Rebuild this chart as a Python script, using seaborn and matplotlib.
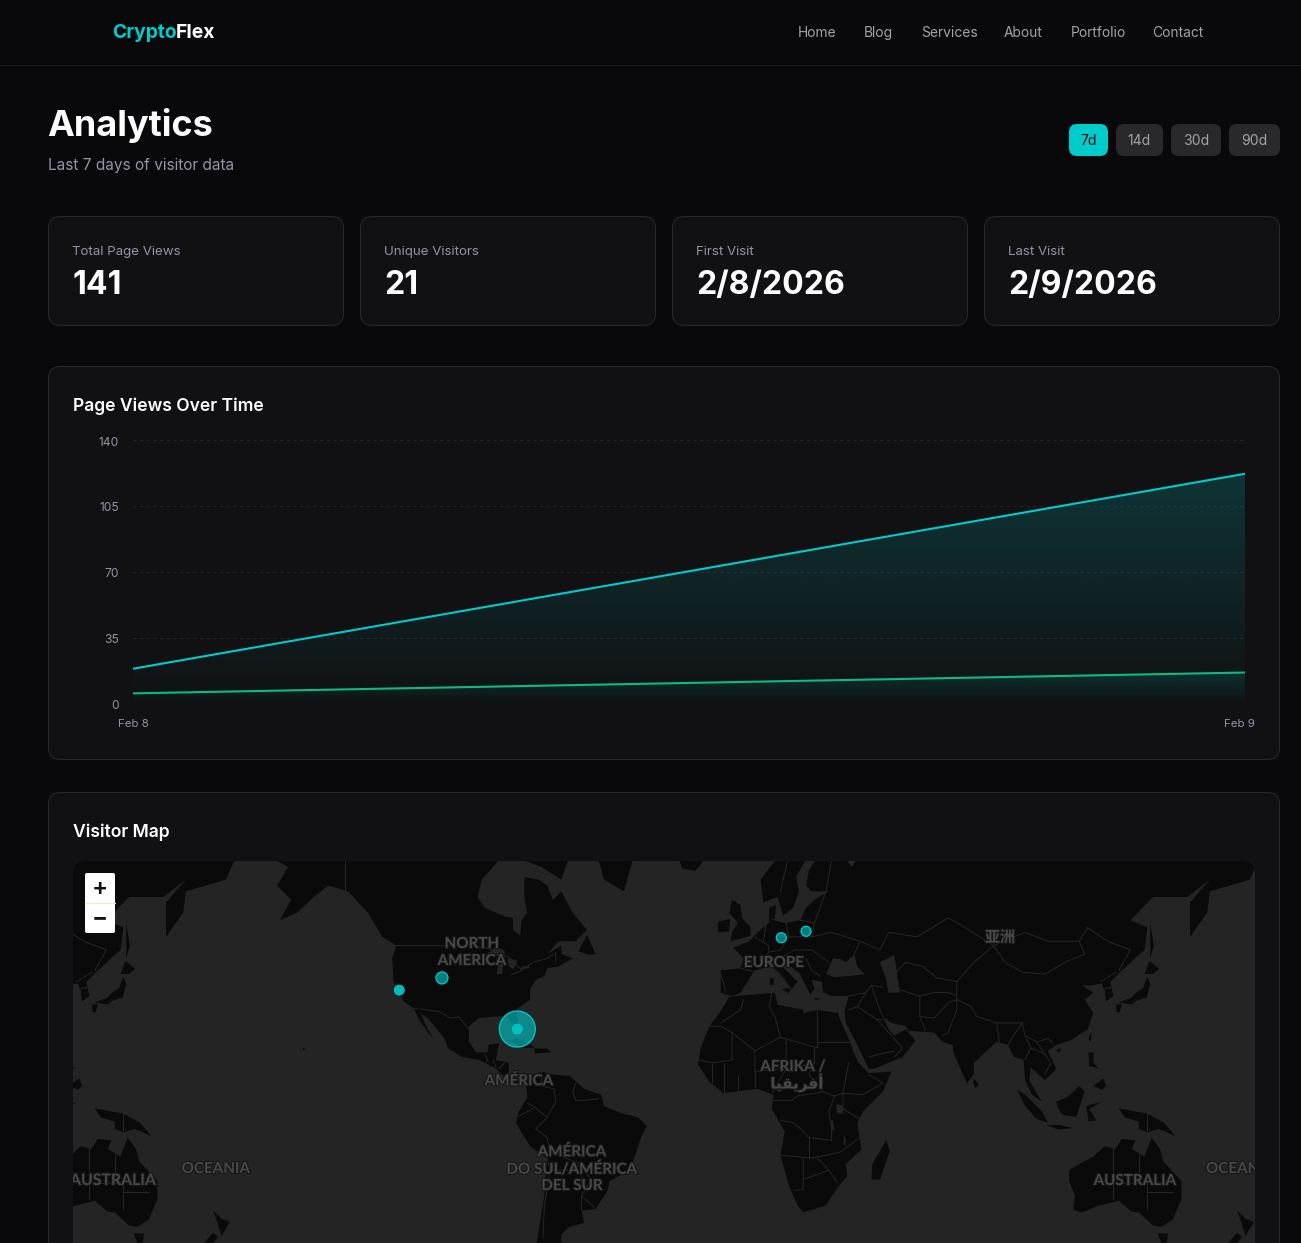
import numpy as np
import pandas as pd
import seaborn as sns
import matplotlib
matplotlib.use("Agg")
import matplotlib.pyplot as plt
import matplotlib.patheffects as pe
from matplotlib.patches import FancyBboxPatch, Rectangle
from matplotlib.transforms import ScaledTranslation

# ---------- chart data ----------
DAYS = ["Feb 8", "Feb 9"]
PAGE_VIEWS = [19, 122]
UNIQUE_VISITORS = [6, 17]
Y_TICKS = [0, 35, 70, 105, 140]

STAT_LABELS = ["Total Page Views", "Unique Visitors", "First Visit", "Last Visit"]
STAT_VALUES = ["141", "21", "2/8/2026", "2/9/2026"]
NAV_ITEMS = ["Home", "Blog", "Services", "About", "Portfolio", "Contact"]
RANGE_ITEMS = ["7d", "14d", "30d", "90d"]

# ---------- visitor locations ----------
VISIT_LON = [-80.5, -107.0, 12.3, 21.0]
VISIT_LAT = [26.1, 41.0, 50.8, 52.2]
VISIT_COUNT = [14, 2, 1, 1]
SOLID_LON = [-122.0, -80.5]
SOLID_LAT = [37.7, 26.1]
SOLID_COUNT = [1, 1]

# ---------- rough world geometry (lon, lat) ----------
LAND = [
 [(-168,65.6),(-164,66.5),(-166,68.3),(-157,71.2),(-141,69.6),(-128,70),(-115,68),(-108,68),(-96,68),(-94,71.5),(-88,68.5),(-82,69.5),(-81,67),(-87,65),(-93,62),(-94.5,59),(-92,57),(-85,55.3),(-82,55),(-82,52.5),(-79.5,51.3),(-79,54.5),(-77,56),(-78,58.7),(-78,62.4),(-73,62),(-70,61),(-68,58.5),(-65,60),(-61,56),(-56,52.5),(-60,50),(-66,50),(-70,47),(-65,49),(-65,47),(-61,46),(-66,44),(-70,43.5),(-71,41.5),(-74,40.5),(-76,38),(-76,35),(-81,32),(-80,27),(-80.5,25.2),(-82,27),(-84,30),(-89,30),(-94,29.5),(-97.5,27),(-97.5,22),(-95,18.5),(-91,18.5),(-90.5,21),(-87,21.5),(-88,16),(-83.5,15),(-83.5,11),(-80,9),(-77.5,8.5),(-80,7.5),(-85,10),(-88,13),(-94,16),(-100,17),(-105,20),(-106,23),(-112,29.5),(-114.5,31),(-112,26),(-110,23),(-112,25),(-115,29),(-117,32.5),(-120.5,34.5),(-124,40),(-124.5,46),(-123,49),(-128,51),(-133,56),(-140,60),(-147,61),(-152,59),(-158,56),(-164,54.5),(-160,58.5),(-165,61),(-161,64)],
 [(-77.5,8.5),(-75,11),(-72,12),(-68,11),(-62,10.5),(-57,6),(-51,4),(-50,0),(-44,-2.5),(-38,-4),(-35,-7),(-37,-11),(-39,-17),(-41,-22),(-48,-25.5),(-49,-29),(-53,-34),(-58,-34.5),(-57,-38),(-62,-39),(-65,-41),(-65,-45),(-69,-50),(-75,-50),(-73,-40),(-71,-30),(-70,-18),(-76,-14),(-81,-6),(-80,-2),(-77,3)],
 [(-6,35.8),(10,37),(11,33.5),(20,32),(20,31),(25,32),(32.5,31),(32.5,30),(34,27),(36,23),(38,18),(39.5,15),(43,11.5),(51,12),(48,5),(41,-2),(39,-6),(40.5,-15),(35,-20),(35.5,-24),(32.5,-27),(28,-33),(20,-35),(18,-33),(15,-27),(12,-17),(13.5,-9),(9,-1),(9.5,4),(4,6),(-4,5),(-8,4.5),(-13,8.5),(-17,14.5),(-16,20),(-13,27),(-9.5,31)],
 [(-9,37),(-9,43),(-2,43.5),(-1,46),(-4.5,48.5),(1,50),(4,52),(8,54),(8,57),(10.5,57.5),(10,54.5),(14,54),(19,54.5),(21,57),(24,58.5),(29,60),(23,60),(21,61),(22,63.5),(25,65.5),(22,65.8),(17.5,62.5),(18.5,60),(16.5,57),(13,55.5),(11,59),(6,58),(5,62),(12,66),(18,70),(26,71),(40,67),(33,66.5),(37,64),(44,68),(60,69),(68,69),(67,73),(80,73),(100,77),(113,74),(130,71),(140,73),(160,70),(180,69),(180,65),(177,62),(163,60),(162,56),(156,51),(156,58),(163,62),(155,59),(143,59),(135,54.5),(141,53),(140,48),(132,43),(128,40),(129,36),(126.5,34.5),(126,37.5),(125,39.5),(121,39),(118,39),(122,37),(119,35),(122,31),(120,26),(114,22.5),(109,21),(106,19),(109,13),(105,9),(100,13.5),(99.5,9),(103,3),(104,1.5),(100.5,4),(98,9),(97.5,16),(94,17),(92,21),(88,22),(80,15),(80,11),(77.5,8),(73,18),(72.5,21),(69,22),(66,25),(57,25.5),(56,27),(51,28),(48,30),(50,26),(52,24),(56,26),(59.5,22.5),(55,17),(45,13),(43,13),(39,21),(35,28),(34.5,31.5),(36,36),(30,36),(27,37),(26.5,40),(23,40.5),(24,38),(22.5,36.5),(19.5,41),(19,42),(13,45.5),(12.5,44),(18,40),(16,38),(12,42),(9,44),(3,43),(0,39.5),(-2,37),(-5,36)],
 [(-73,78),(-60,82),(-30,83),(-18,76),(-22,70),(-40,65),(-43,60),(-50,62),(-54,68),(-58,75)],
 [(-80,73),(-68,68),(-62,66),(-65,62),(-72,64),(-78,65),(-73,68)],
 [(-59,47.7),(-56,51.5),(-53,47),(-55,46.8)],
 [(-85,22),(-80,23),(-74.2,20.2),(-78,19.9),(-82,22)],
 [(-74.4,19.8),(-70,19.8),(-68.5,18.5),(-74.4,18.2)],
 [(-5.5,50),(1.5,51.2),(1.5,53),(-1.5,55),(-2,57.5),(-5,58.5),(-6,56),(-3,54),(-5,52)],
 [(-10,52),(-6,52.2),(-5.7,54.8),(-10,54.2)],
 [(-24,65.5),(-14,65.5),(-18,63.4),(-22.5,63.8)],
 [(8.3,39),(9.7,39.2),(9.6,41.1),(8.3,40.9)],
 [(12.5,38),(15.5,38.2),(15,36.7)],
 [(23.5,35.5),(26.3,35.2),(24.5,34.9)],
 [(130,33.5),(132,33.8),(131.3,31.2),(130.2,31.4)],
 [(131,34.2),(135.5,35.6),(137,37),(139.5,38.3),(141,41.3),(142,39.5),(140.8,35.6),(137,34.6),(135.5,33.6),(132,34)],
 [(140,42),(141.7,45.4),(145.2,43.4),(143,42)],
 [(142,54),(143.3,49),(142,46),(142,50)],
 [(120.2,23),(121.5,25.2),(121,22)],
 [(108.8,19.3),(110.7,20),(110,18.3)],
 [(80,9.7),(81.8,7.5),(80.6,6),(79.8,8)],
 [(44.3,-20),(49.2,-12),(50.4,-15.7),(47,-25),(44,-25)],
 [(95.3,5.6),(98,4),(104,-2),(106,-5.8),(102,-4.5),(98,0)],
 [(105.5,-6.8),(110,-6.6),(114.5,-7.7),(110,-8.3)],
 [(109,1.5),(113,3.2),(117,7),(119,5),(117.6,1),(116,-3.9),(111,-3),(109.5,-0.5)],
 [(119.5,0),(124.8,1.4),(120.6,-1),(123,-5),(120.4,-5.5)],
 [(120.3,18.5),(122.2,18.4),(122,15),(124,13),(120.5,14)],
 [(122,7),(125.5,9.7),(126.5,7),(125,5.7)],
 [(131,-0.8),(137,-2),(141,-2.7),(147,-6),(150.8,-10.5),(145,-8),(141,-9.2),(138,-8),(138,-5.5),(133,-4)],
 [(113.5,-22),(116,-20.5),(122,-17.5),(126,-14),(129.7,-15),(132,-11.5),(136.8,-12),(135.5,-15),(140,-17.5),(142.5,-11),(145.5,-15),(146.5,-19),(153,-25.5),(153,-31),(150,-37),(146,-39),(143,-38.7),(138,-35),(135.5,-34.8),(131,-31.6),(124,-33),(118,-35),(115,-34.3),(115.5,-30),(113.5,-25.5)],
 [(144.7,-40.8),(148.3,-40.9),(147.8,-43.2),(146,-43.6)],
 [(172.7,-34.5),(175.5,-36.8),(178.5,-37.7),(175.5,-41.5),(174.5,-39)],
 [(172.5,-40.7),(174.3,-41.7),(171,-45),(166.5,-46),(168.5,-44)],
 [(-156,20.2),(-155,19.7),(-155.7,19)],
]
WATER = [
 [(28,42),(30.5,46),(33,45.8),(35,45),(38,47),(39,44),(41.5,42),(36,41.5),(31,41.2)],
 [(47,45),(52,46.8),(53,42),(54,37),(50,37),(49,41)],
 [(-92,46.7),(-88,48.8),(-85,47.8),(-85,46.5)],
 [(-87.8,42),(-86,42),(-85,45.8),(-87,45.7)],
 [(-84,46),(-80.5,45.5),(-81.8,43.2),(-83.5,44)],
 [(-83,41.6),(-79,42.7),(-78.9,43),(-82,42.3)],
 [(-79.5,43.3),(-76.3,43.5),(-76.4,44.2),(-79,43.9)],
 [(31.5,0.5),(34,0.2),(34,-2.6),(32,-2.6)],
 [(29.5,-5),(30.5,-5),(31,-8.5),(30,-8.2)],
 [(34.2,-10),(35,-12),(34.8,-14),(34.2,-13)],
]
BORDERS = [
 [(-141,69.6),(-141,60)], [(-123,49),(-95,49),(-89,48),(-83,46),(-79,43),(-75,45),(-70,46),(-67,47.3),(-67,45)],
 [(-117,32.5),(-108,31.5),(-104,29.5),(-101,29.8),(-97.5,26)], [(-92,18),(-91,16),(-92,14.5)], [(-89,16),(-88,13.5)], [(-85,15),(-87,13)],
 [(-83.5,11),(-86,11)], [(-83,9),(-82.8,8)],
 [(-72,12),(-72,7),(-67.5,6),(-67,1.5),(-70,-4),(-74,-8),(-70,-11),(-69,-16),(-58,-20),(-54.5,-25.5),(-58,-30),(-53.5,-33.5)],
 [(-60,8),(-61,5),(-60,2),(-57,2),(-52,2.5)], [(-77,1),(-75,0),(-70,-4)], [(-80,-3.5),(-75,-1)], [(-70,-18),(-69,-22),(-71,-33),(-71.5,-42)],
 [(-67,-22),(-62,-22),(-58,-20)], [(-58,-27),(-58,-20)], [(-58,-34),(-58,-30)],
 [(-9,28),(-2,32),(-1,35)], [(-13,27),(-9,27),(-5,25),(3,19),(12,23.5),(10,30),(8,33),(9,37)], [(12,23.5),(25,20),(25,32)], [(25,22),(37,22)], [(24,20),(24,15),(22,11),(27,5)],
 [(-17,16),(-12,15),(-5,16),(-5,25)], [(3,19),(3,12),(14,13),(14,23)], [(14,13),(24,15)], [(3,12),(3,6.5)], [(-12,15),(-12,8)], [(-8,15),(-8,5)], [(-3,11),(-3,5)],
 [(9,4.5),(14,13)], [(9.5,2),(16,2),(18,3.5),(27,5),(31,3.5),(34,4.5),(36,15)], [(34,4.5),(41,4),(48,8),(43,11)], [(34,4.5),(34,-1),(40,-4.5)],
 [(12,-5),(17,-6),(22,-11),(30,-12),(30,-8),(29,-2),(31,3.5)], [(12,-17),(23,-18),(33,-16),(40.5,-10.7)], [(22,-11),(22,-18)], [(20,-18),(20,-28),(17,-28.5)], [(25,-18),(29,-22),(32,-26)], [(20,-25),(29,-22)],
 [(-2,43.5),(3,42.5)], [(-9,42),(-7,37)], [(3,51),(8,49),(7,44)], [(6,50),(7,54)], [(9,54.8),(14,54)], [(14,54),(15,51),(12,48),(8,47.5)], [(7,46),(13,46.5),(17,48),(23,48)],
 [(14,51),(23,51),(24,54),(19,54.5)], [(23,51),(30,52),(40,50),(38,47)], [(23,48),(29,45)], [(21,46),(23,43),(26,41.5)], [(28,60),(24,54)], [(28,60),(30,65),(26,69)], [(12,60),(15,66),(20,69),(26,69)],
 [(40,50),(47,48),(50,52),(60,51),(71,55),(77,53),(87,49),(98,52),(106,50),(117,50),(120,53),(127,50),(135,48),(131,43)],
 [(87,49),(91,45),(97,42.5),(105,42),(112,45),(119,47),(117,50)], [(87,49),(80,45),(74,40),(74,35),(79,33),(81,30),(88,28),(97,28),(98,24),(102,22),(106,23),(108,21.5)],
 [(52,42),(56,45),(62,44),(67,41),(74,40)], [(53,38),(61,36),(66,37),(71,37),(74,36)], [(61,36),(61,30),(66,29.5),(71,34),(74,35)], [(61,30),(63,25.5)], [(71,25),(69,24)], [(71,25),(74,32),(74,35)],
 [(88,28),(89,22)], [(92,21),(94,24),(97,28)], [(98,24),(100,20),(98,16)], [(100,20),(105,18),(107,15),(105,11)], [(102,22),(105,18)],
 [(36,36),(42,37),(44,39),(48,38.5)], [(44,39),(46,34),(48,30)], [(42,37),(39,33),(46,29),(48,29)], [(36,32),(39,33)], [(46,29),(52,23),(55,20),(52,17)], [(43,17),(52,19)], [(124.5,40),(130,42.5)], [(126,38),(128.5,38.5)],
 [(129,-15),(129,-31)], [(138,-16.5),(138,-26),(141,-26),(141,-34)], [(129,-26),(138,-26)], [(141,-29),(150,-29)], [(141,-2.7),(141,-9.2)],
]

sns.set_theme(style="dark")
plt.rcParams["font.family"] = ["Inter", "DejaVu Sans"]

W, H = 1301, 1243
BG, CARD, EDGE = "#09090b", "#111113", "#29292c"
CYAN, GREEN = "#00cccc", "#10b981"
MUTED, SOFT = "#9494a6", "#a3a3a3"
LAND_C, SEA_C, BORDER_C = "#0a0a0a", "#242424", "#262626"


def rect_axes(x0, y0, x1, y1, z):
    a = fig.add_axes([x0 / W, 1 - y1 / H, (x1 - x0) / W, (y1 - y0) / H], zorder=z)
    return a


def merc(lat):
    return np.log(np.tan(np.pi / 4 + np.radians(np.asarray(lat, float)) / 2))


def px(v):
    return v * 0.72


fig = plt.figure(figsize=(W / 100, H / 100), dpi=100, facecolor=BG)

# ---------- page layer ----------
page = rect_axes(0, 0, W, H, 0)
page.set_xlim(0, W); page.set_ylim(H, 0); page.axis("off")


def card(a, x0, y0, x1, y1, fc=CARD, ec=EDGE, r=12):
    if ec == "none":
        a.add_patch(FancyBboxPatch((x0, y0), x1 - x0, y1 - y0, boxstyle=f"round,pad=0,rounding_size={r}",
                                   fc=fc, ec="none", lw=0))
    else:
        a.add_patch(FancyBboxPatch((x0 + 0.5, y0 + 0.5), x1 - x0 - 1, y1 - y0 - 1,
                                   boxstyle=f"round,pad=0,rounding_size={r}", fc=fc, ec=ec, lw=0.72))


page.plot([0, W], [64.5, 64.5], color="#17171a", lw=0.72)
logo = page.text(112, 33.3, "Crypto", color=CYAN, fontsize=px(19.3), weight="bold", va="center")
fig.canvas.draw()
bb = logo.get_window_extent()
page.text(bb.x1 - 0.5, 33.3, "Flex", color="white", fontsize=px(19.3), weight="bold", va="center")
for name, x in zip(NAV_ITEMS, [817, 878.5, 949, 1023.5, 1098, 1177.5]):
    page.text(x, 33, name, color=SOFT, fontsize=px(13.8), ha="center", va="center")

page.text(47.5, 125.5, "Analytics", color="white", fontsize=px(36), weight="bold", va="center")
page.text(48, 165, "Last 7 days of visitor data", color=MUTED, fontsize=px(15.4), va="center")

for i, (name, x0, x1) in enumerate(zip(RANGE_ITEMS, [1069, 1116, 1171, 1229], [1108, 1163, 1221, 1280])):
    card(page, x0, 124, x1, 156, fc=CYAN if i == 0 else "#29292c", ec="none", r=8)
    page.text((x0 + x1) / 2, 141, name, color="#0a0a0c" if i == 0 else SOFT, fontsize=px(14), ha="center", va="center")

for x0, lab, val in zip([48, 360, 672, 984], STAT_LABELS, STAT_VALUES):
    card(page, x0, 216, x0 + 296, 326)
    page.text(x0 + 24.5, 252.3, lab, color=MUTED, fontsize=px(13.3), va="center")
    page.text(x0 + 24.5, 285.5, val, color="white", fontsize=px(32), weight="bold", va="center")

card(page, 48, 366, 1280, 760)
page.text(73, 406, "Page Views Over Time", color="white", fontsize=px(17.5), weight="semibold", va="center")
card(page, 48, 792, 1280, 1400)
page.text(73, 832, "Visitor Map", color="white", fontsize=px(17.5), weight="semibold", va="center")

# ---------- line chart ----------
ax = rect_axes(133, 439.7, 1245, 704.7, 1)
ax.patch.set_alpha(0)
chart = pd.DataFrame({
    "day": [0, 1, 0, 1],
    "count": PAGE_VIEWS + UNIQUE_VISITORS,
    "series": ["Page Views"] * 2 + ["Unique Visitors"] * 2,
})
xs = np.arange(len(DAYS))
for vals, col, top_a in [(PAGE_VIEWS, CYAN, 0.19), (UNIQUE_VISITORS, "#00c4b0", 0.16)]:
    poly = ax.fill_between(xs, vals, 0, color="none", lw=0)
    rgba = np.zeros((256, 1, 4))
    rgba[..., :3] = matplotlib.colors.to_rgb(col)
    rgba[..., 3] = np.linspace(top_a, 0, 256)[:, None]
    im = ax.imshow(rgba, extent=[xs[0], xs[-1], 0, max(vals)], origin="upper", aspect="auto", zorder=1)
    im.set_clip_path(poly.get_paths()[0], ax.transData)
sns.lineplot(data=chart, x="day", y="count", hue="series", palette=[CYAN, GREEN], lw=1.5,
             legend=False, ax=ax, zorder=3)
ax.set_xlim(0, 1); ax.set_ylim(0, 140)
ax.set_xlabel(""); ax.set_ylabel("")
ax.set_yticks(Y_TICKS); ax.set_xticks(xs); ax.set_xticklabels(DAYS)
ax.grid(False)
ax.grid(axis="y", color="#232326", lw=0.8, ls=(0, (3, 3)), zorder=0)
ax.set_axisbelow(True)
for s in ax.spines.values():
    s.set_visible(False)
ax.tick_params(axis="both", length=0, colors=MUTED, labelsize=px(12))
ax.tick_params(axis="x", pad=10.2, labelsize=px(11.5))
ax.tick_params(axis="y", pad=10)
for t, lift in zip(ax.get_yticklabels(), [1, 1.5, 1.5, 2, 3.5]):
    t.set_va("center")
    t.set_transform(t.get_transform() + ScaledTranslation(0, -lift / 100, fig.dpi_scale_trans))
last = ax.get_xticklabels()[-1]
last.set_transform(last.get_transform() + ScaledTranslation(-5.5 / 100, 0, fig.dpi_scale_trans))

# ---------- map ----------
MAP_X0, MAP_X1, MAP_Y0, MAP_Y1 = 73, 1255, 861, 1243
DEG = 1024 / 360.0          # pixels per degree at this zoom
R = 1024 / (2 * np.pi)
LON0, EQ = 746.3, 1106
m = rect_axes(MAP_X0, MAP_Y0, MAP_X1, MAP_Y1, 1)
m.set_xlim((MAP_X0 - LON0) / DEG, (MAP_X1 - LON0) / DEG)
m.set_ylim((EQ - MAP_Y1) / R, (EQ - MAP_Y0) / R)
m.set_facecolor(SEA_C)
m.axis("off")
clip = FancyBboxPatch((MAP_X0, MAP_Y0), MAP_X1 - MAP_X0, 600, boxstyle="round,pad=0,rounding_size=12",
                      transform=page.transData, fc="none", ec="none")
sea = m.add_patch(Rectangle((0, 0), 1, 1, transform=m.transAxes, fc=SEA_C, ec="none", zorder=0))
sea.set_clip_path(clip)
artists = []
for shift in (0, -360):
    for shape in LAND:
        lon, lat = zip(*shape)
        artists += m.fill(np.array(lon) + shift, merc(lat), color=LAND_C, lw=0, zorder=1)
    for shape in WATER:
        lon, lat = zip(*shape)
        artists += m.fill(np.array(lon) + shift, merc(lat), color=SEA_C, lw=0, zorder=2)
    for line in BORDERS:
        lon, lat = zip(*line)
        artists += m.plot(np.array(lon) + shift, merc(lat), color=BORDER_C, lw=0.7, zorder=2)
for art in artists:
    art.set_clip_path(clip)


def radius_points(count):
    return (2 * (4 + count) * 0.72) ** 2


visits = pd.DataFrame({"lon": VISIT_LON, "y": merc(VISIT_LAT), "n": VISIT_COUNT})
solid = pd.DataFrame({"lon": SOLID_LON, "y": merc(SOLID_LAT), "n": SOLID_COUNT})
sns.scatterplot(data=visits, x="lon", y="y", size="n", sizes={c: radius_points(c) for c in set(VISIT_COUNT)},
                color=matplotlib.colors.to_rgba(CYAN, 0.6), edgecolor=CYAN, linewidth=0.9, legend=False, ax=m, zorder=5)
sns.scatterplot(data=solid, x="lon", y="y", size="n", sizes={c: radius_points(c) for c in set(SOLID_COUNT)},
                color=matplotlib.colors.to_rgba("#00c4c4", 0.95), edgecolor=CYAN, linewidth=0.6, legend=False, ax=m, zorder=6)
m.set_xlim((MAP_X0 - LON0) / DEG, (MAP_X1 - LON0) / DEG)
m.set_ylim((EQ - MAP_Y1) / R, (EQ - MAP_Y0) / R)
m.axis("off")

# ---------- top layer: map labels and zoom control ----------
top = rect_axes(0, 0, W, H, 2)
top.set_xlim(0, W); top.set_ylim(H, 0); top.axis("off"); top.patch.set_alpha(0)
halo = [pe.withStroke(linewidth=1.6, foreground="#161616")]
LAB_COL = "#484848"
LABELS = [(472, 944, "NORTH", "Lato"), (472, 961, "AMERICA", "Lato"), (519, 1081, "AMÉRICA", "Lato"),
          (774, 963, "EUROPE", "Lato"), (1000, 937, "亚洲", "Noto Sans CJK SC"), (793, 1067, "AFRIKA /", "Lato"),
          (797, 1083, "\uFE8E\uFEF4\uFED8\uFEF3\uFEAE\uFED3\uFE83", "DejaVu Sans"),
          (572, 1152, "AMÉRICA", "Lato"), (572, 1169, "DO SUL/AMÉRICA", "Lato"), (572, 1186, "DEL SUR", "Lato"),
          (216, 1169, "OCEANIA", "Lato"), (1135, 1181, "AUSTRALIA", "Lato")]
for x, y, s, fam in LABELS:
    top.text(x, y, s, color=LAB_COL, fontsize=px(15.2), weight="bold", family=[fam, "DejaVu Sans"],
             ha="center", va="center", path_effects=halo)
map_window = Rectangle((MAP_X0, MAP_Y0), MAP_X1 - MAP_X0, 400, transform=top.transData)
edge_left = top.text(113, 1181, "AUSTRALIA", color=LAB_COL, fontsize=px(15.8), weight="bold", family="Lato",
                     ha="center", va="center", path_effects=halo, clip_on=True)
edge_left.set_clip_path(map_window)
edge_right = top.text(1206, 1169, "OCEANIA", color=LAB_COL, fontsize=px(15.2), weight="bold", family="Lato",
                      ha="left", va="center", path_effects=halo, clip_on=True)
edge_right.set_clip_path(map_window)

card(top, 85, 873, 115, 933, fc="white", ec="none", r=2)
top.plot([85, 115], [903, 903], color="#f1e8d6", lw=0.9)
top.text(99.5, 889, "+", color="#111", fontsize=px(24), weight="semibold", ha="center", va="center")
top.text(99.5, 918, "\u2212", color="#111", fontsize=px(24), weight="semibold", ha="center", va="center")

fig.savefig("out.png", dpi=100, facecolor=BG)
